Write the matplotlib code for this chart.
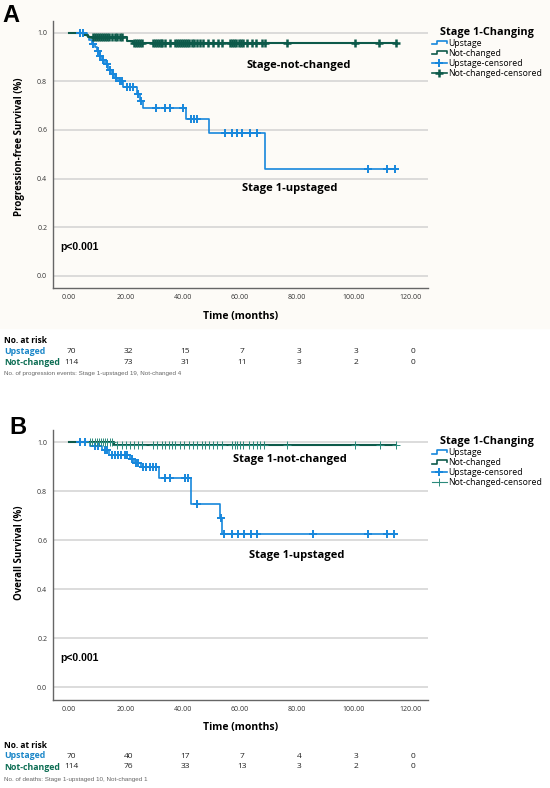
import numpy as np
import matplotlib
matplotlib.use('Agg')
import matplotlib.pyplot as plt
import matplotlib.transforms as mtrans
from matplotlib.lines import Line2D
from matplotlib.patches import Rectangle
from matplotlib.legend_handler import HandlerBase

plt.rcParams['font.family'] = ['Open Sans', 'DejaVu Sans']

BLUE = '#1787dc'
DARK = '#0d5a4a'
TEAL = '#2b8a7c'

# ---- A: progression-free survival ----
pfs_up_t = [6.2, 7.0, 8.0, 9.0, 10.0, 10.8, 11.5, 12.5, 13.8, 15.0, 16.0, 17.3,
            19.1, 23.8, 24.8, 26.1, 41.1, 49.3, 68.8]
pfs_up_s = [0.985, 0.970, 0.955, 0.940, 0.925, 0.905, 0.890, 0.870, 0.845, 0.830,
            0.815, 0.800, 0.777, 0.750, 0.720, 0.690, 0.645, 0.586, 0.439]
pfs_up_cens = [4.0, 5.0, 8.5, 10.3, 11.0, 12.0, 13.2, 14.5, 15.5, 16.5, 18.0, 18.5,
               20.5, 21.5, 22.5, 24.3, 25.4, 30.6, 33.7, 35.5, 40.2, 42.7, 43.9, 45.1,
               54.8, 57.1, 58.9, 60.7, 63.6, 65.9, 105.0, 111.6, 114.5]

pfs_nc_t = [5.0, 6.8, 20.3, 22.6]
pfs_nc_s = [0.989, 0.981, 0.967, 0.956]
pfs_nc_cens = [8.5, 9.2, 9.8, 10.5, 11.2, 12.0, 12.8, 13.5, 14.2, 15.0, 16.0, 17.0,
               18.0, 18.6, 22.9, 23.5, 24.2, 25.0, 25.7, 29.6, 30.2, 30.8, 31.5, 32.2,
               32.8, 33.7, 35.5, 37.2, 38.0, 38.7, 39.4, 40.1, 40.8, 41.5, 42.3, 43.1,
               44.0, 45.0, 46.0, 47.1, 48.9, 50.5, 52.5, 53.6, 56.5, 57.3, 58.0, 58.8,
               59.6, 60.4, 61.2, 62.4, 64.2, 65.7, 67.7, 68.8, 76.7, 100.5, 109.0, 114.9]

# ---- B: overall survival ----
os_up_t = [7.2, 11.5, 14.0, 21.4, 22.7, 25.2, 31.6, 42.9, 53.0, 53.6]
os_up_s = [0.986, 0.968, 0.950, 0.933, 0.917, 0.900, 0.855, 0.750, 0.690, 0.627]
os_up_cens = [3.9, 5.6, 9.0, 10.2, 12.5, 13.2, 15.0, 16.0, 17.2, 18.4, 19.6, 20.5,
              22.0, 23.5, 24.3, 26.0, 27.0, 28.3, 29.5, 30.7, 33.7, 35.5, 40.8, 41.7,
              45.0, 53.3, 54.6, 57.3, 59.2, 61.4, 63.9, 65.9, 85.7, 104.9, 111.7, 114.2]

os_nc_t = [15.9]
os_nc_s = [0.990]
os_nc_cens = [7.4, 8.2, 9.0, 9.8, 10.5, 11.3, 12.0, 12.8, 13.5, 14.3, 15.0, 17.0,
              18.5, 20.0, 21.5, 23.0, 24.2, 25.5, 29.5, 31.0, 32.6, 33.7, 35.0, 36.0,
              37.2, 39.0, 40.5, 42.0, 43.5, 45.0, 46.6, 47.8, 49.3, 50.7, 52.1, 53.6,
              57.1, 58.2, 59.0, 60.0, 61.0, 63.3, 64.5, 66.0, 67.2, 68.5, 76.7, 100.5,
              109.2, 114.9]

xticks = [0, 20, 40, 60, 80, 100, 120]
pfs_risk_up = [70, 32, 15, 7, 3, 3, 0]
pfs_risk_nc = [114, 73, 31, 11, 3, 2, 0]
os_risk_up = [70, 40, 17, 7, 4, 3, 0]
os_risk_nc = [114, 76, 33, 13, 3, 2, 0]

W, H = 550, 788


def fy(py):
    # pixel row -> figure fraction
    return 1 - py / H


def km(ax, t, s, cens, color, lw, mcolor, mew, ms):
    t = np.asarray(t)
    s = np.asarray(s)
    end = max(cens)
    ax.step(np.r_[0, t, end], np.r_[1, s, s[-1]], where='post', color=color, lw=lw, zorder=3)
    idx = np.searchsorted(t, cens, side='right')
    cy = np.r_[1, s][idx]
    ax.plot(cens, cy, ls='none', marker='+', ms=ms, mew=mew, color=mcolor, zorder=4)


class StepHandler(HandlerBase):
    def create_artists(self, legend, orig, xd, yd, w, h, fontsize, trans):
        x0, y0 = -xd, -yd
        xs = [x0, x0 + 0.35 * w, x0 + 0.35 * w, x0 + w, x0 + w]
        ys = [y0 + 0.2 * h, y0 + 0.2 * h, y0 + 0.8 * h, y0 + 0.8 * h, y0 + 0.45 * h]
        return [Line2D(xs, ys, color=orig.get_color(), lw=orig.get_linewidth(), transform=trans)]


fig = plt.figure(figsize=(W / 100, H / 100), dpi=100)
fig.patches.append(Rectangle((0, fy(328)), 1, 328 / H, transform=fig.transFigure,
                             color='#fdfbf7', zorder=-10))


def panel(top, bot, ylabel, up, nc, nc_mcol, nc_mew, labels, risk, yt, note, letter, letpos, lab_y, bg):
    ax = fig.add_axes([52.7 / W, fy(bot), (428.3 - 52.7) / W, (bot - top) / H])
    ax.set_facecolor(bg)
    km(ax, *up, BLUE, 1.2, BLUE, 1.4, 6)
    km(ax, *nc, DARK, 1.5, nc_mcol, nc_mew, 6)
    ax.set_xlim(-5.73, 126.2)
    ax.set_ylim(-(12.6 / 243.2), 1 + 12.3 / 243.2)
    ax.set_yticks([0, 0.2, 0.4, 0.6, 0.8, 1.0])
    ax.set_yticklabels(['%.1f' % v for v in [0, 0.2, 0.4, 0.6, 0.8, 1.0]])
    ax.set_xticks(xticks)
    ax.set_xticklabels(['%.2f' % v for v in xticks])
    ax.tick_params(length=0, labelsize=5, colors='#333333', pad=4)
    ax.grid(axis='y', color='#d2d2d2', lw=1.1)
    ax.set_axisbelow(True)
    for sp in ['top', 'right']:
        ax.spines[sp].set_visible(False)
    for sp in ['left', 'bottom']:
        ax.spines[sp].set_color('#666666')
        ax.spines[sp].set_linewidth(1.0)
    ax.set_xlabel('Time (months)', fontsize=7.5, fontweight='bold', labelpad=7)
    ax.set_ylabel(ylabel, fontsize=7, fontweight='bold')
    ax.yaxis.set_label_coords(-0.074, lab_y)
    ax.text(-3.2, 0.12, 'p<0.001', fontsize=7.5, fontweight='bold',
            family=['Liberation Sans', 'DejaVu Sans'], va='center')
    for txt, x, y in labels:
        ax.text(x, y, txt, fontsize=8, fontweight='bold', ha='center', va='center')

    hs = [Line2D([], [], color=BLUE, lw=1.2), Line2D([], [], color=DARK, lw=1.2),
          Line2D([], [], color=BLUE, lw=1.2, marker='+', ms=6, mew=1.4),
          Line2D([], [], color=nc_mcol, lw=1.2 if nc_mew > 1 else 0.8, marker='+', ms=6, mew=nc_mew)]
    if nc_mew > 1:
        hs[3].set_color(DARK)
    ax.legend(hs, ['Upstage', 'Not-changed', 'Upstage-censored', 'Not-changed-censored'],
              handler_map={hs[0]: StepHandler(), hs[1]: StepHandler()},
              loc='upper left', bbox_to_anchor=(432 / W, fy(top + 6)),
              bbox_transform=fig.transFigure, frameon=False, fontsize=6.3,
              title='Stage 1-Changing', title_fontproperties={'weight': 'bold', 'size': 7.8},
              handlelength=1.7, handletextpad=0.15, labelspacing=0.12,
              borderpad=0, borderaxespad=0)

    # number at risk table
    tr = mtrans.blended_transform_factory(ax.transData, fig.transFigure)
    fig.text(4 / W, fy(yt[0]), 'No. at risk', fontsize=6, fontweight='bold', va='center')
    fig.text(4 / W, fy(yt[1]), 'Upstaged', fontsize=6.3, fontweight='bold', color='#1a86c8', va='center')
    fig.text(4 / W, fy(yt[2]), 'Not-changed', fontsize=6.3, fontweight='bold', color='#0d6e54', va='center')
    for x, a, b in zip(xticks, risk[0], risk[1]):
        ax.text(x + 0.8, fy(yt[1]), str(a), transform=tr, fontsize=6, ha='center', va='center', color='#222222')
        ax.text(x + 0.8, fy(yt[2]), str(b), transform=tr, fontsize=6, ha='center', va='center', color='#222222')
    fig.text(4 / W, fy(yt[3]), note, fontsize=4.5, color='#666666', va='center',
             family=['Liberation Sans', 'DejaVu Sans'])
    fig.text(letpos[0] / W, fy(letpos[1]), letter, fontsize=17, fontweight='bold', ha='center', va='center',
             family=['Liberation Sans', 'DejaVu Sans'])
    return ax


panel(20.5, 288.3, 'Progression-free Survival (%)',
      (pfs_up_t, pfs_up_s, pfs_up_cens), (pfs_nc_t, pfs_nc_s, pfs_nc_cens), DARK, 1.8,
      [('Stage-not-changed', 80.8, 0.867), ('Stage 1-upstaged', 77.6, 0.36)],
      (pfs_risk_up, pfs_risk_nc), [340, 351.3, 362.3, 374],
      'No. of progression events: Stage 1-upstaged 19, Not-changed 4', 'A', (11, 16), 0.527, '#fdfbf7')

panel(430, 700, 'Overall Survival (%)',
      (os_up_t, os_up_s, os_up_cens), (os_nc_t, os_nc_s, os_nc_cens), TEAL, 0.7,
      [('Stage 1-not-changed', 77.6, 0.931), ('Stage 1-upstaged', 80.0, 0.54)],
      (os_risk_up, os_risk_nc), [745, 756, 767, 779.5],
      'No. of deaths: Stage 1-upstaged 10, Not-changed 1', 'B', (18, 427), 0.544, 'white')

fig.savefig('out.png', dpi=100)
